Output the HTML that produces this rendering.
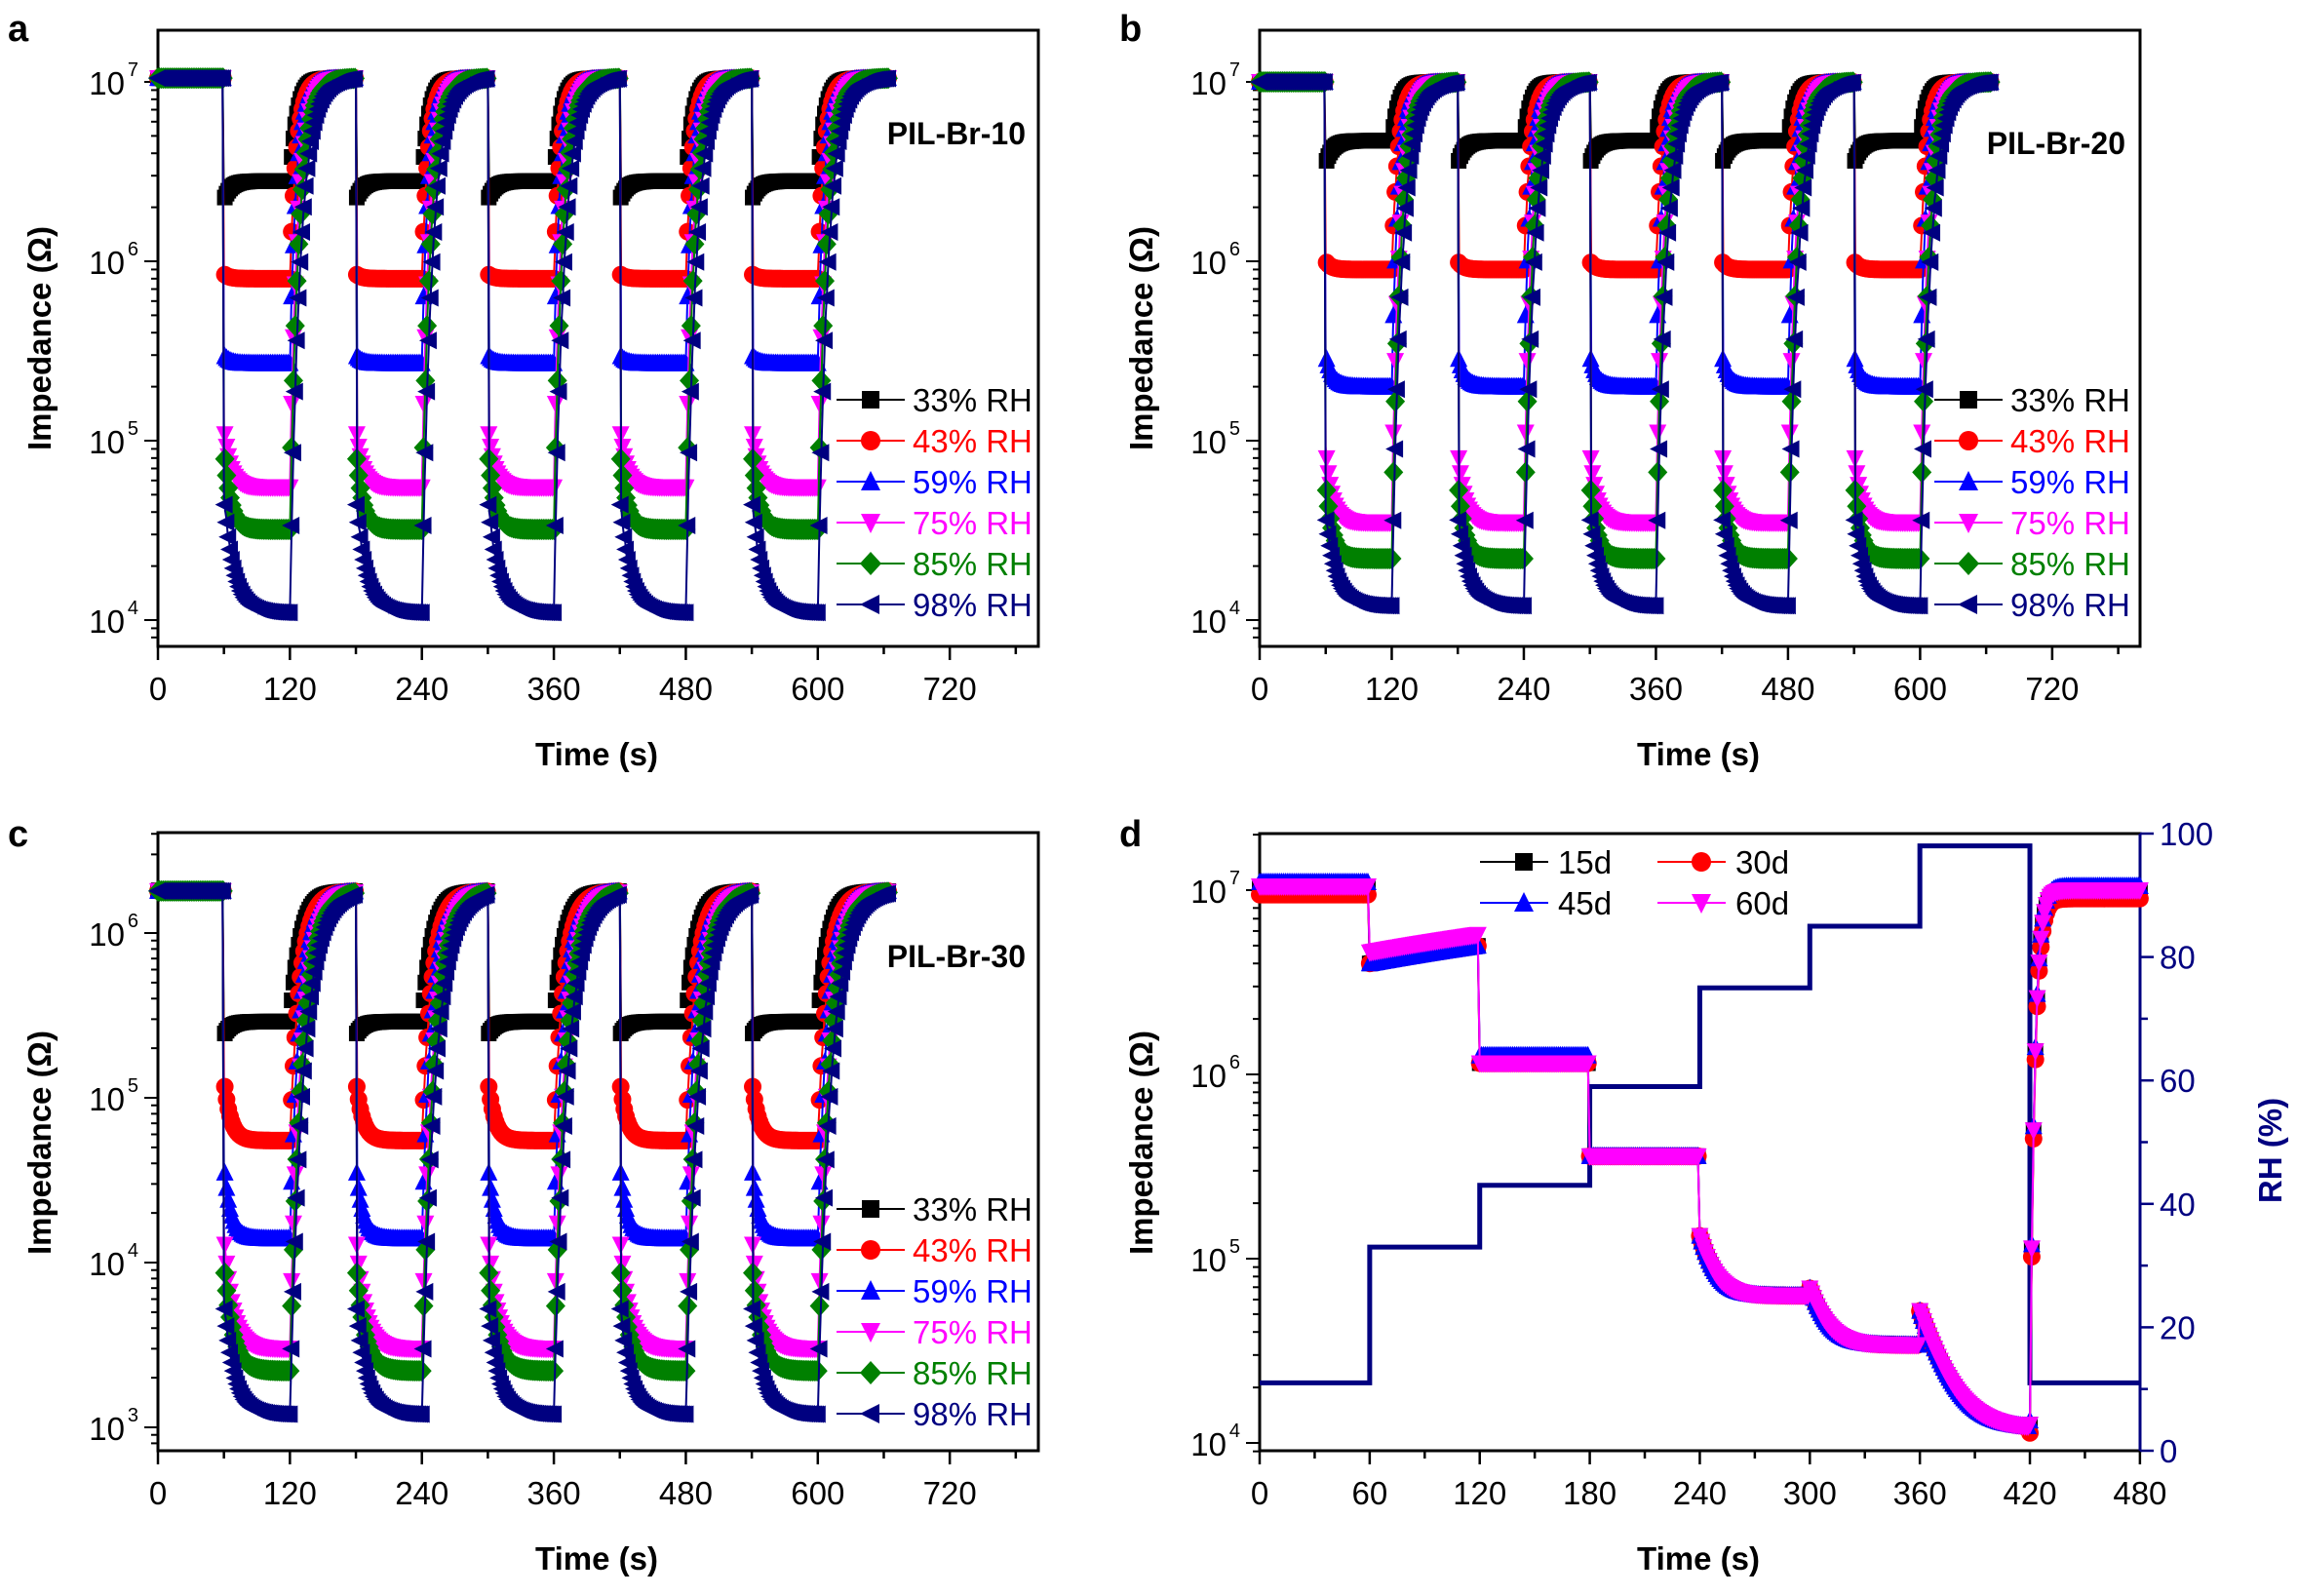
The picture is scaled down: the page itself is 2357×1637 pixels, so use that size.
<!DOCTYPE html>
<html><head><meta charset="utf-8"><style>
html,body{margin:0;padding:0;background:#fff;}
svg{display:block;font-family:"Liberation Sans",Arial,sans-serif;}
</style></head><body>
<svg id="s" width="2357" height="1637" viewBox="0 0 2357 1637" xmlns="http://www.w3.org/2000/svg">
<rect width="2357" height="1637" fill="#fff"/>
<g font-weight="bold" font-size="38">
<text x="8" y="42">a</text><text x="1148" y="42">b</text>
<text x="8" y="868">c</text><text x="1148" y="868">d</text>
</g>
<g font-weight="bold" font-size="33" text-anchor="middle">
<text transform="translate(52,347) rotate(-90)">Impedance (Ω)</text>
<text transform="translate(1182,347) rotate(-90)">Impedance (Ω)</text>
<text transform="translate(52,1172) rotate(-90)">Impedance (Ω)</text>
<text transform="translate(1182,1172) rotate(-90)">Impedance (Ω)</text>
<text transform="translate(2340,1180) rotate(-90)" fill="#000080">RH (%)</text>
<text x="612" y="785">Time (s)</text>
<text x="1742" y="785">Time (s)</text>
<text x="612" y="1610">Time (s)</text>
<text x="1742" y="1610">Time (s)</text>
</g>
<g font-weight="bold" font-size="32" text-anchor="end">
<text x="1052" y="148">PIL-Br-10</text>
<text x="2180" y="158">PIL-Br-20</text>
<text x="1052" y="992">PIL-Br-30</text>
</g>
<g id="plots"></g>
</svg>
<script>
var NS="http://www.w3.org/2000/svg",P=document.getElementById('plots');
function el(n,a,par){var e=document.createElementNS(NS,n);for(var k in a)e.setAttribute(k,a[k]);(par||P).appendChild(e);return e;}
function txt(x,y,s,a){a=a||{};a.x=x;a.y=y;var e=el('text',a);e.textContent=s;return e;}
var COL=['#000','#f00','#00f','#f0f','#008000','#000080'];
function marker(g,type,x,y,c,r){
 r=r||8;
 if(type==0)el('rect',{x:x-r,y:y-r,width:2*r,height:2*r,fill:c},g);
 else if(type==1)el('circle',{cx:x,cy:y,r:r+1,fill:c},g);
 else if(type==2)el('polygon',{points:(x)+','+(y-r-2)+' '+(x-r-1)+','+(y+r)+' '+(x+r+1)+','+(y+r),fill:c},g);
 else if(type==3)el('polygon',{points:(x)+','+(y+r+2)+' '+(x-r-1)+','+(y-r)+' '+(x+r+1)+','+(y-r),fill:c},g);
 else if(type==4)el('polygon',{points:x+','+(y-r-3)+' '+(x+r+2)+','+y+' '+x+','+(y+r+3)+' '+(x-r-2)+','+y,fill:c},g);
 else el('polygon',{points:(x-r-2)+','+y+' '+(x+r)+','+(y-r-1)+' '+(x+r)+','+(y+r+1),fill:c},g);
}
function axes(p){
 var g=el('g',{});
 el('rect',{x:p.L,y:p.T,width:p.R-p.L,height:p.B-p.T,fill:'none',stroke:'#000','stroke-width':3},g);
 for(var t=0;t*p.sx+p.L<=p.R+1;t+=p.xminor){
  var x=p.L+t*p.sx,maj=(t%p.xmajor==0);
  el('line',{x1:x,y1:p.B,x2:x,y2:p.B+(maj?14:8),stroke:'#000','stroke-width':2.5},g);
  if(maj)txt(x,p.B+55,''+t,{'font-size':33,'text-anchor':'middle'});
 }
 for(var e=p.emin;e<=p.emax;e++){
  for(var m=1;m<10;m++){
   var v=e+Math.log10(m),y=p.Y0-(v-p.E0)*p.dec;
   if(y<p.T-1||y>p.B+1)continue;
   el('line',{x1:p.L,y1:y,x2:p.L-(m==1?14:7),y2:y,stroke:'#000','stroke-width':2},g);
   if(m==1){
     txt(p.L-34,y+13,'10',{'font-size':33,'text-anchor':'end'});
     txt(p.L-20,y-6,''+e,{'font-size':20,'text-anchor':'end'});
   }
  }
 }
}
function cyc(p,spec,t){
 var lH=Math.log10(spec[0]),ls=Math.log10(spec[1]),le=Math.log10(spec[2]),tau=spec[3];
 if(t<60)return lH;
 var k=Math.floor((t-60)/120),d=60+120*k,r=d+60;
 if(k>4){k=4;d=540;r=600;}
 if(t<r){return le+(ls-le)*Math.exp(-(t-d)/tau);}
 var lr=le+(ls-le)*Math.exp(-60/tau);
 return lH-(lH-lr)*Math.exp(-(t-r)/(spec[4]||5));
}
function panelCyc(p,specs){
 axes(p);
 for(var s=0;s<6;s++){
  var g=el('g',{});var pts=[];
  for(var t=0;t<=665;t+=1.2){
   var lv=cyc(p,specs[s],t)+(Math.sin(t*7.3+s)*0.015);
   pts.push((p.L+t*p.sx).toFixed(1)+','+(p.Y0-(lv-p.E0)*p.dec).toFixed(1));
  }
  el('polyline',{points:pts.join(' '),fill:'none',stroke:COL[s],'stroke-width':2},g);
  for(var t=0;t<=665;t+=1.6){
   var lv=cyc(p,specs[s],t);
   marker(g,s,p.L+t*p.sx,p.Y0-(lv-p.E0)*p.dec,COL[s],8);
  }
 }
 var labs=['33% RH','43% RH','59% RH','75% RH','85% RH','98% RH'];
 for(var s=0;s<6;s++){
  var y=p.lgY+s*p.lgD;
  el('line',{x1:p.lgX,y1:y,x2:p.lgX+70,y2:y,stroke:COL[s],'stroke-width':2});
  marker(P,s,p.lgX+35,y,COL[s],9);
  txt(p.lgX+78,y+12,labs[s],{'font-size':33,fill:COL[s]});
 }
}
var pa={L:162,R:1065,T:31,B:663,sx:1.128,xminor:60,xmajor:120,Y0:84,E0:7,dec:184,emin:3,emax:7,lgX:858,lgY:410,lgD:42};
panelCyc(pa,[[1.05e7,2.2e6,2.8e6,6,6],[1.05e7,8.5e5,8e5,5,6],[1.05e7,3e5,2.7e5,5,6],[1.05e7,1.2e5,5.5e4,6,7],[1.05e7,9e4,3.2e4,6,8],[1.05e7,5e4,1.1e4,9,9]]);
var pb={L:1292,R:2195,T:31,B:663,sx:1.129,xminor:60,xmajor:120,Y0:84,E0:7,dec:184,emin:3,emax:7,lgX:1984,lgY:410,lgD:42};
panelCyc(pb,[[1e7,3.5e6,4.7e6,6,6],[1e7,1e6,9e5,5,6],[1e7,3e5,2e5,6,6],[1e7,9e4,3.5e4,6,7],[1e7,6e4,2.2e4,6,8],[1e7,4e4,1.2e4,9,9]]);
var pc={L:162,R:1065,T:854,B:1488,sx:1.128,xminor:60,xmajor:120,Y0:957,E0:6,dec:169,emin:2,emax:6,lgX:858,lgY:1240,lgD:42};
panelCyc(pc,[[1.8e6,2.4e5,2.9e5,6,9],[1.8e6,1.3e5,5.5e4,6,9],[1.8e6,4e4,1.4e4,6,9],[1.8e6,1.5e4,3e3,8,10],[1.8e6,1e4,2.2e3,8,11],[1.8e6,6e3,1.2e3,9,12]]);
var pd={L:1292,R:2195,T:855,B:1488,sx:1.881,xminor:30,xmajor:60,Y0:913,E0:7,dec:189,emin:3,emax:7};
axes(pd);
(function(){var g=el('g',{});
 el('line',{x1:pd.R,y1:pd.T,x2:pd.R,y2:pd.B,stroke:'#000080','stroke-width':3},g);
 for(var v=0;v<=100;v+=10){var y=pd.B-(v/100)*(pd.B-pd.T);
  el('line',{x1:pd.R,y1:y,x2:pd.R+(v%20==0?14:8),y2:y,stroke:'#000080','stroke-width':2.5},g);
  if(v%20==0)txt(pd.R+20,y+12,''+v,{'font-size':33,fill:'#000080'});}
 var rh=[[0,11],[60,33],[120,43],[180,59],[240,75],[300,85],[360,98],[420,11],[480,11]];
 var pts=[];for(var i=0;i<rh.length-1;i++){var y=pd.B-rh[i][1]/100*(pd.B-pd.T);
  pts.push((pd.L+rh[i][0]*pd.sx)+','+y);pts.push((pd.L+rh[i+1][0]*pd.sx)+','+y);}
 el('polyline',{points:pts.join(' '),fill:'none',stroke:'#000080','stroke-width':5},g);
})();
function dval(t,k){
 var f=[1,0.9,1.05,1][k];
 if(t<60)return Math.log10(1.05e7*f);
 if(t<120)return Math.log10((4e6+1e6*(t-60)/60)*(k==3?1.15:1));
 if(t<180)return Math.log10(1.15e6*(k==2?1.1:1));
 if(t<240)return Math.log10(3.6e5);
 if(t<300)return Math.log10(6.3e4+7e4*Math.exp(-(t-240)/7));
 if(t<360)return Math.log10(3.4e4+3.5e4*Math.exp(-(t-300)/8));
 if(t<420)return Math.log10(1.2e4+4e4*Math.exp(-(t-360)/12));
 return Math.log10(1e7*f)-(Math.log10(1e7)-4.1)*Math.exp(-(t-420)/2.5);
}
var DC=['#000','#f00','#00f','#f0f'];
for(var k=0;k<4;k++){var g=el('g',{});var pts=[];
 for(var t=0;t<=480;t+=1){pts.push((pd.L+t*pd.sx).toFixed(1)+','+(pd.Y0-(dval(t,k)-7)*pd.dec).toFixed(1));}
 el('polyline',{points:pts.join(' '),fill:'none',stroke:DC[k],'stroke-width':2},g);
 for(var t=0;t<=480;t+=1){marker(g,k,pd.L+t*pd.sx,pd.Y0-(dval(t,k)-7)*pd.dec,DC[k],8);}
}
[[1518,884,0,'15d'],[1700,884,1,'30d'],[1518,926,2,'45d'],[1700,926,3,'60d']].forEach(function(a){
 el('line',{x1:a[0],y1:a[1],x2:a[0]+70,y2:a[1],stroke:DC[a[2]],'stroke-width':2});
 marker(P,a[2],a[0]+45,a[1],DC[a[2]],9);
 txt(a[0]+80,a[1]+12,a[3],{'font-size':33});
});
</script>
</body></html>
